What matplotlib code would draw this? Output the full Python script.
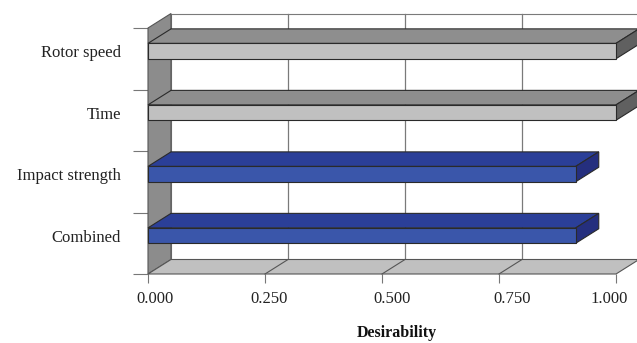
import numpy as np
import matplotlib
matplotlib.use("Agg")
import matplotlib.pyplot as plt
from matplotlib.patches import Polygon
from matplotlib.transforms import ScaledTranslation

# data (top to bottom in the chart)
factors = ["Rotor speed", "Time", "Impact strength", "Combined"]
desirability = [1.000, 1.000, 0.914, 0.914]
bar_kind = ["factor", "factor", "response", "combined"]
x_ticks = [0.0, 0.25, 0.5, 0.75, 1.0]

plt.rcParams['font.family'] = ['Liberation Serif', 'DejaVu Serif']

W, H, DPI = 637, 343, 100
fig = plt.figure(figsize=(W / DPI, H / DPI), dpi=DPI)
# front plane of the pseudo-3D box
ax = fig.add_axes([148 / W, (H - 274) / H, 468 / W, 246 / H])
n = len(factors)
ax.set_xlim(0, 1)
ax.set_ylim(0, n)

# depth offset of the 3D effect (data units)
dx = 23 / 468
dy = 14.5 / (246 / n)

wall_kw = dict(closed=True, clip_on=False, lw=0.8)
# back wall
ax.add_patch(Polygon([(dx, dy), (1 + dx, dy), (1 + dx, n + dy), (dx, n + dy)],
                     fc="white", ec="#7a7a7a", zorder=1, **wall_kw))
# left wall
ax.add_patch(Polygon([(0, 0), (dx, dy), (dx, n + dy), (0, n)],
                     fc="#8c8c8c", ec="#555555", zorder=2, **wall_kw))
# floor
ax.add_patch(Polygon([(0, 0), (dx, dy), (1 + dx, dy), (1, 0)],
                     fc="#c0c0c0", ec="#555555", zorder=2, **wall_kw))
for xt in x_ticks[1:-1]:
    ax.plot([xt + dx, xt + dx], [dy, n + dy], color="#7a7a7a", lw=0.9, zorder=1.5, clip_on=False)
    ax.plot([xt, xt + dx], [0, dy], color="#555555", lw=0.8, zorder=2.5, clip_on=False)

colors = {
    "factor": ("#c0c0c0", "#8e8e8e", "#606060"),
    "response": ("#3a56aa", "#2b3f98", "#252f7e"),
    "combined": ("#3a56aa", "#2b3f98", "#252f7e"),
}
bar_kw = dict(closed=True, clip_on=False, ec="#2a2a2a", lw=0.8, zorder=5)
for i, (name, v, kind) in enumerate(zip(factors, desirability, bar_kind)):
    y0 = n - 1 - i + 0.5
    y1 = y0 + 0.25
    front, top, side = colors[kind]
    ax.add_patch(Polygon([(0, y1), (dx, y1 + dy), (v + dx, y1 + dy), (v, y1)], fc=top, **bar_kw))
    ax.add_patch(Polygon([(v, y0), (v, y1), (v + dx, y1 + dy), (v + dx, y0 + dy)], fc=side, **bar_kw))
    ax.add_patch(Polygon([(0, y0), (v, y0), (v, y1), (0, y1)], fc=front, **bar_kw))

for s in ax.spines.values():
    s.set_visible(False)
ax.set_facecolor("none")

ax.set_xticks(x_ticks)
ax.set_xticklabels([f"{t:.3f}" for t in x_ticks])
ax.tick_params(axis="x", length=6.5, width=0.8, color="#777777", pad=6,
               labelsize=12, labelcolor="#222222")
# the labels in the original sit a little off their ticks
label_shift_px = [7, 4, 10, 13, -7]
for lab, sh in zip(ax.get_xticklabels(), label_shift_px):
    lab.set_transform(lab.get_transform() + ScaledTranslation(sh / DPI, 0, fig.dpi_scale_trans))

ax.set_yticks(np.arange(n + 1))
ax.set_yticklabels([])
ax.tick_params(axis="y", which="major", length=10.8, width=0.8, color="#777777")
ax.set_yticks([n - 1 - i + 0.62 for i in range(n)], minor=True)
ax.set_yticklabels(factors, minor=True)
ax.tick_params(axis="y", which="minor", length=0, pad=19.5, labelsize=12, labelcolor="#222222")

fig.text(397 / W, 1 - 333 / H, "Desirability", ha="center", va="center",
         fontsize=11.5, fontweight="bold", color="#111111")

fig.savefig("out.png", dpi=DPI)
